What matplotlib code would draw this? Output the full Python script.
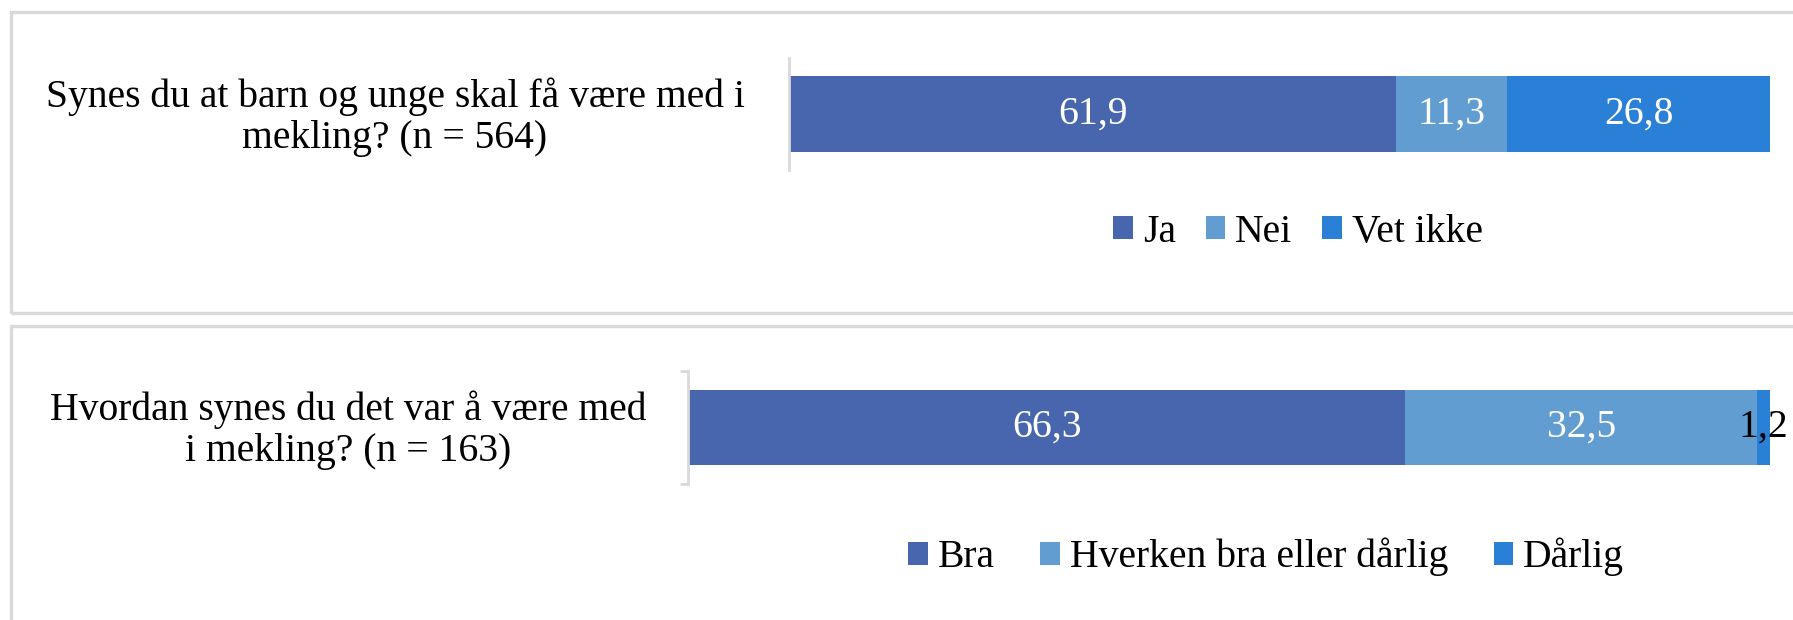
import matplotlib
matplotlib.use('Agg')
import matplotlib.pyplot as plt
from matplotlib.patches import Rectangle

# data
q1_label = 'Synes du at barn og unge skal få være med i\nmekling? (n = 564)'
q1_cats = ['Ja', 'Nei', 'Vet ikke']
q1_vals = [61.9, 11.3, 26.8]

q2_label = 'Hvordan synes du det var å være med\ni mekling? (n = 163)'
q2_cats = ['Bra', 'Hverken bra eller dårlig', 'Dårlig']
q2_vals = [66.3, 32.5, 1.2]

colors = ['#4866ad', '#619dd1', '#2a7fd6']

W, H = 1793, 620
FS = 28.5
plt.rcParams['font.family'] = ['Liberation Serif', 'DejaVu Serif']
fig = plt.figure(figsize=(W / 100, H / 100), dpi=100)

def px(x0, y0, x1, y1):
    # pixel box (top-left origin) -> figure fraction rect
    return [x0 / W, 1 - y1 / H, (x1 - x0) / W, (y1 - y0) / H]

# panel frames
for (x0, y0, x1, y1) in [(11, 12, 1810, 313), (11, 326, 1810, 640)]:
    fig.patches.append(Rectangle((x0 / W, 1 - y1 / H), (x1 - x0) / W, (y1 - y0) / H,
                                 transform=fig.transFigure, fill=False,
                                 edgecolor='#d9d9d9', linewidth=2.4))

def stacked(ax, vals, cats, bracket):
    left = 0
    handles = []
    for v, c, name in zip(vals, colors, cats):
        b = ax.barh(0, v, left=left, height=0.67, color=c, label=name)
        handles.append(b)
        # tiny segment: label doesn't fit, drawn in black
        lc = 'white' if v > 5 else 'black'
        ax.text(left + v / 2, 0, f'{v:.1f}'.replace('.', ','), ha='center', va='center',
                color=lc, fontsize=FS)
        left += v
    ax.set_xlim(0, 100)
    ax.set_ylim(-0.5, 0.5)
    for s in ['top', 'right', 'bottom']:
        ax.spines[s].set_visible(False)
    ax.spines['left'].set_color('#d9d9d9')
    ax.spines['left'].set_linewidth(2)
    ax.set_xticks([])
    if bracket:
        ax.set_yticks([-0.5, 0.5])
        ax.tick_params(axis='y', length=6, width=2, color='#d9d9d9', labelleft=False)
    else:
        ax.set_yticks([])
    return handles

ax1 = fig.add_axes(px(789, 58, 1770, 170))
h1 = stacked(ax1, q1_vals, q1_cats, False)
ax2 = fig.add_axes(px(688, 371, 1770, 484))
h2 = stacked(ax2, q2_vals, q2_cats, True)

fig.text(395 / W, 1 - 117 / H, q1_label, ha='center', va='center', fontsize=FS,
         linespacing=1.15)
fig.text(348 / W, 1 - 430 / H, q2_label, ha='center', va='center', fontsize=FS,
         linespacing=1.15)

leg_kw = dict(loc='center', ncol=3, frameon=False, fontsize=FS, handlelength=0.5,
              handleheight=0.5, handletextpad=0.25)
fig.legend(handles=h1, labels=q1_cats, bbox_to_anchor=(1298 / W, 1 - 232 / H),
           columnspacing=0.75, **leg_kw)
fig.legend(handles=h2, labels=q2_cats, bbox_to_anchor=(1266 / W, 1 - 557 / H),
           columnspacing=1.15, **leg_kw)

fig.savefig('out.png', dpi=100, facecolor='white')
